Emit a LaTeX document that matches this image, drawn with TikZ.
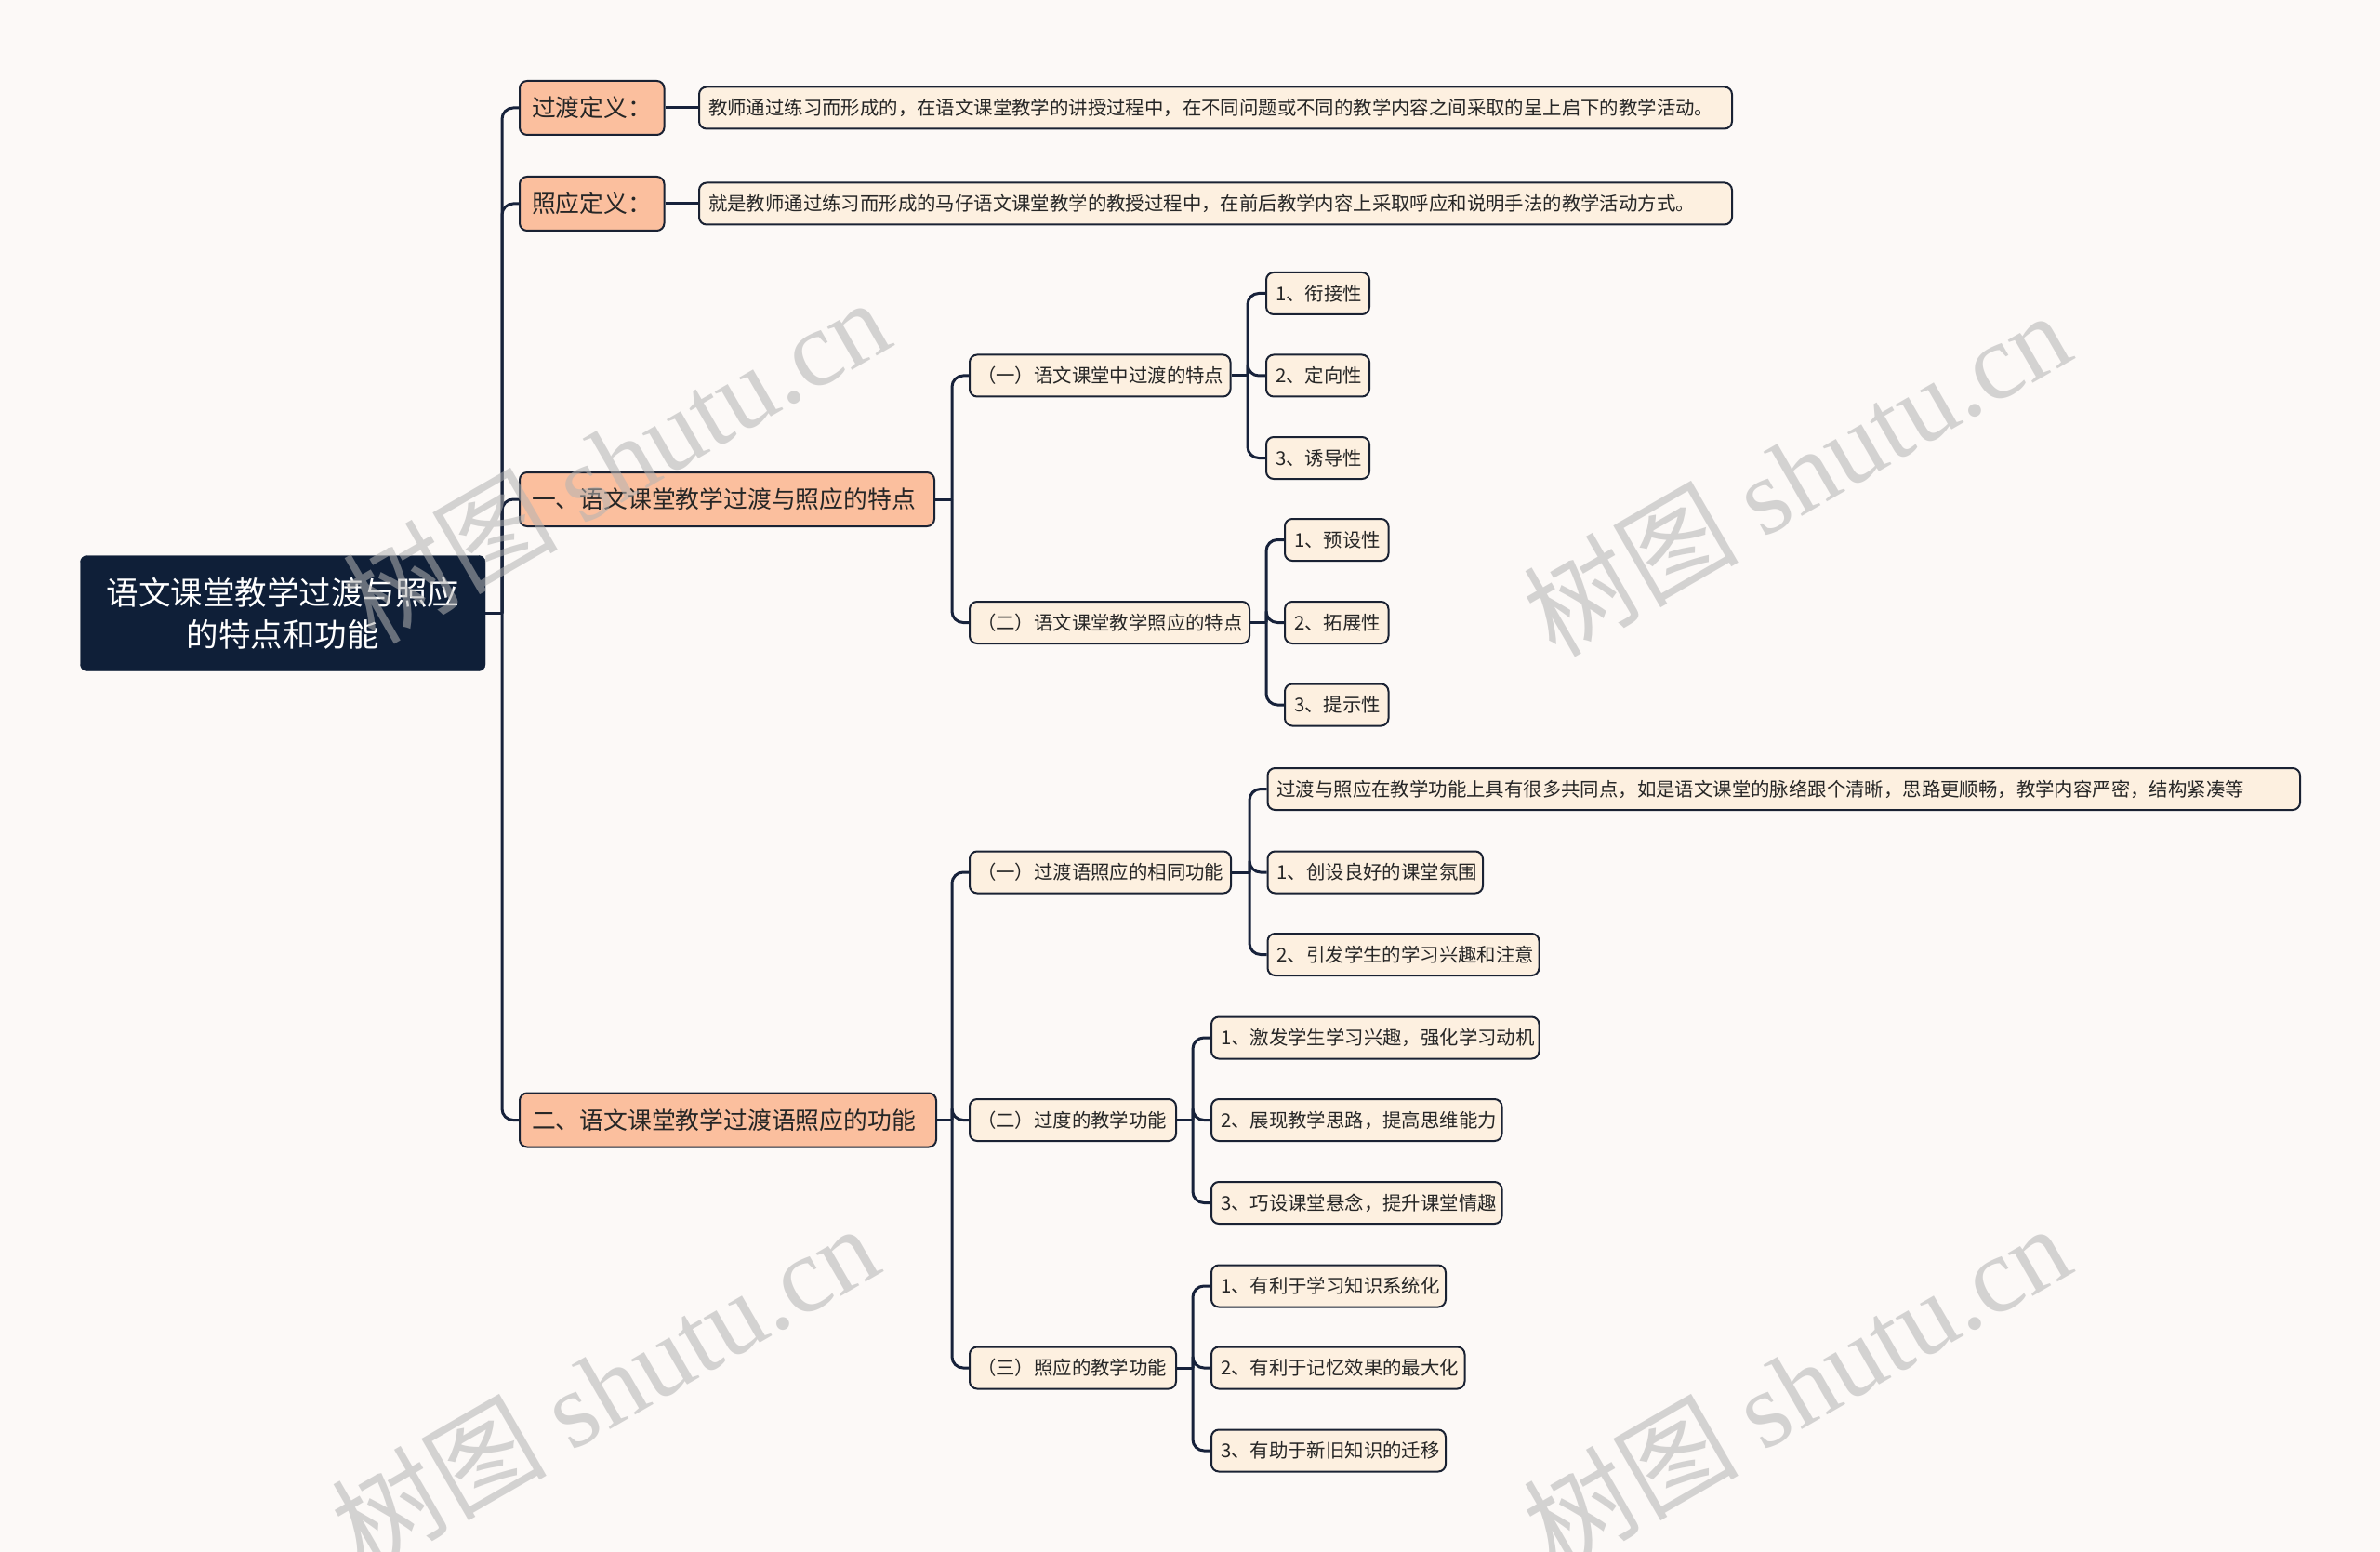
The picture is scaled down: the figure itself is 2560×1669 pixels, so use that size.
\documentclass[tikz,border=0pt]{standalone}
\usepackage{fontspec}
\setmainfont{Noto Sans CJK SC}
\newfontfamily\wmlatin{Liberation Serif}
\newfontfamily\wmcjk{Noto Sans CJK SC}
\definecolor{bgc}{HTML}{FCF9F7}
\definecolor{navy}{HTML}{0F1F38}
\definecolor{edge}{HTML}{1A2233}
\definecolor{salmon}{HTML}{FBBF9E}
\definecolor{cream}{HTML}{FDF0E0}
\definecolor{linec}{HTML}{17223B}
\definecolor{wmc}{HTML}{B3B3B3}
\newcommand\bx[7]{%
  \pgfmathsetlengthmacro\mybw{(#4)-(#3)-2*(#6)}%
  \node[#2, anchor=west, inner xsep=#6] (#1) at (#3,#5) {\makebox[\mybw][l]{#7}};}
\begin{document}
\begin{tikzpicture}[x=1pt,y=-1pt,
  rootbox/.style={fill=navy, draw=navy, rounded corners=7pt, text=white, align=center,
    inner sep=0pt, minimum width=435.5pt, minimum height=124pt,
    font=\fontsize{34.5}{45}\selectfont},
  lonebox/.style={fill=salmon, draw=edge, line width=2pt, rounded corners=8pt, inner ysep=0pt,
    minimum height=58pt, text=black!85, font=\fontsize{25.8}{30}\selectfont},
  sbox/.style={fill=cream, draw=edge, line width=2pt, rounded corners=8pt, inner ysep=0pt,
    minimum height=45pt, text=black!85, font=\fontsize{20.4}{24}\selectfont},
  conn/.style={draw=linec, line width=3pt},
  fork/.style={draw=linec, line width=3pt, rounded corners=12pt},
  wm/.style={text=wmc, opacity=0.55, rotate=30, font=\fontsize{116}{130}\selectfont}]
\fill[bgc] (0,0) rectangle (2560,1669);
\useasboundingbox (0,0) rectangle (2560,1669);

% vertical coordinates of the forks
\coordinate (v0) at (540,0);
\coordinate (vA3) at (1024,0);
\coordinate (vA4) at (1024,0);
\coordinate (vB1) at (1342,0);
\coordinate (vB2) at (1362,0);
\coordinate (vB3) at (1344,0);
\coordinate (vB4) at (1283,0);
\coordinate (vB5) at (1283,0);

% nodes
\node[rootbox] (root) at (304.25,659.5) {语文课堂教学过渡与照应\\的特点和功能};
\bx{A1}{lonebox}{558}{713.5}{116}{13}{过渡定义：}
\bx{A2}{lonebox}{558}{713.5}{219}{13}{照应定义：}
\bx{A3}{lonebox}{558}{1004}{537}{13}{一、语文课堂教学过渡与照应的特点}
\bx{A4}{lonebox}{558}{1006}{1204.5}{13}{二、语文课堂教学过渡语照应的功能}

\bx{D1}{sbox}{751}{1862}{116}{10}{教师通过练习而形成的，在语文课堂教学的讲授过程中，在不同问题或不同的教学内容之间采取的呈上启下的教学活动。}
\bx{D2}{sbox}{751}{1862}{219}{10}{就是教师通过练习而形成的马仔语文课堂教学的教授过程中，在前后教学内容上采取呼应和说明手法的教学活动方式。}

\bx{B1}{sbox}{1042}{1322.5}{404}{8}{（一）语文课堂中过渡的特点}
\bx{C1}{sbox}{1361}{1472}{315.5}{10}{1、衔接性}
\bx{C2}{sbox}{1361}{1472}{404}{10}{2、定向性}
\bx{C3}{sbox}{1361}{1472}{492.5}{10}{3、诱导性}

\bx{B2}{sbox}{1042}{1343}{669.5}{8}{（二）语文课堂教学照应的特点}
\bx{C4}{sbox}{1381}{1492.5}{580.5}{10}{1、预设性}
\bx{C5}{sbox}{1381}{1492.5}{669.5}{10}{2、拓展性}
\bx{C6}{sbox}{1381}{1492.5}{758}{10}{3、提示性}

\bx{B3}{sbox}{1042}{1323}{938}{8}{（一）过渡语照应的相同功能}
\bx{E1}{sbox}{1362.5}{2473}{848.5}{10}{过渡与照应在教学功能上具有很多共同点，如是语文课堂的脉络跟个清晰，思路更顺畅，教学内容严密，结构紧凑等}
\bx{E2}{sbox}{1362.5}{1594}{938}{10}{1、创设良好的课堂氛围}
\bx{E3}{sbox}{1362.5}{1654.5}{1026.5}{10}{2、引发学生的学习兴趣和注意}

\bx{B4}{sbox}{1042}{1264}{1204.5}{8}{（二）过度的教学功能}
\bx{F1}{sbox}{1302}{1654.5}{1116}{10}{1、激发学生学习兴趣，强化学习动机}
\bx{F2}{sbox}{1302}{1614.5}{1204.5}{10}{2、展现教学思路，提高思维能力}
\bx{F3}{sbox}{1302}{1614.5}{1293.5}{10}{3、巧设课堂悬念，提升课堂情趣}

\bx{B5}{sbox}{1042}{1264}{1471}{8}{（三）照应的教学功能}
\bx{G1}{sbox}{1302}{1554}{1383}{10}{1、有利于学习知识系统化}
\bx{G2}{sbox}{1302}{1574.5}{1471}{10}{2、有利于记忆效果的最大化}
\bx{G3}{sbox}{1302}{1554}{1560}{10}{3、有助于新旧知识的迁移}

% connectors
\draw[conn] (root.east) -- (root.east -| v0);
\foreach \c in {A1,A2,A3,A4} \draw[fork] (root.east -| v0) |- (\c.west);
\draw[conn] (A1.east) -- (D1.west);
\draw[conn] (A2.east) -- (D2.west);

\draw[conn] (A3.east) -- (A3.east -| vA3);
\foreach \c in {B1,B2} \draw[fork] (A3.east -| vA3) |- (\c.west);
\draw[conn] (B1.east) -- (B1.east -| vB1);
\foreach \c in {C1,C2,C3} \draw[fork] (B1.east -| vB1) |- (\c.west);
\draw[conn] (B2.east) -- (B2.east -| vB2);
\foreach \c in {C4,C5,C6} \draw[fork] (B2.east -| vB2) |- (\c.west);

\draw[conn] (A4.east) -- (A4.east -| vA4);
\foreach \c in {B3,B4,B5} \draw[fork] (A4.east -| vA4) |- (\c.west);
\draw[conn] (B3.east) -- (B3.east -| vB3);
\foreach \c in {E1,E2,E3} \draw[fork] (B3.east -| vB3) |- (\c.west);
\draw[conn] (B4.east) -- (B4.east -| vB4);
\foreach \c in {F1,F2,F3} \draw[fork] (B4.east -| vB4) |- (\c.west);
\draw[conn] (B5.east) -- (B5.east -| vB5);
\foreach \c in {G1,G2,G3} \draw[fork] (B5.east -| vB5) |- (\c.west);

% watermarks
\node[wm] (w1) at (662,494) {{\wmcjk 树图} {\wmlatin shutu.cn}};
\node[wm] (w2) at (1932,508) {{\wmcjk 树图} {\wmlatin shutu.cn}};
\node[wm] (w3) at (650,1490) {{\wmcjk 树图} {\wmlatin shutu.cn}};
\node[wm] (w4) at (1932,1490) {{\wmcjk 树图} {\wmlatin shutu.cn}};
\end{tikzpicture}
\end{document}
